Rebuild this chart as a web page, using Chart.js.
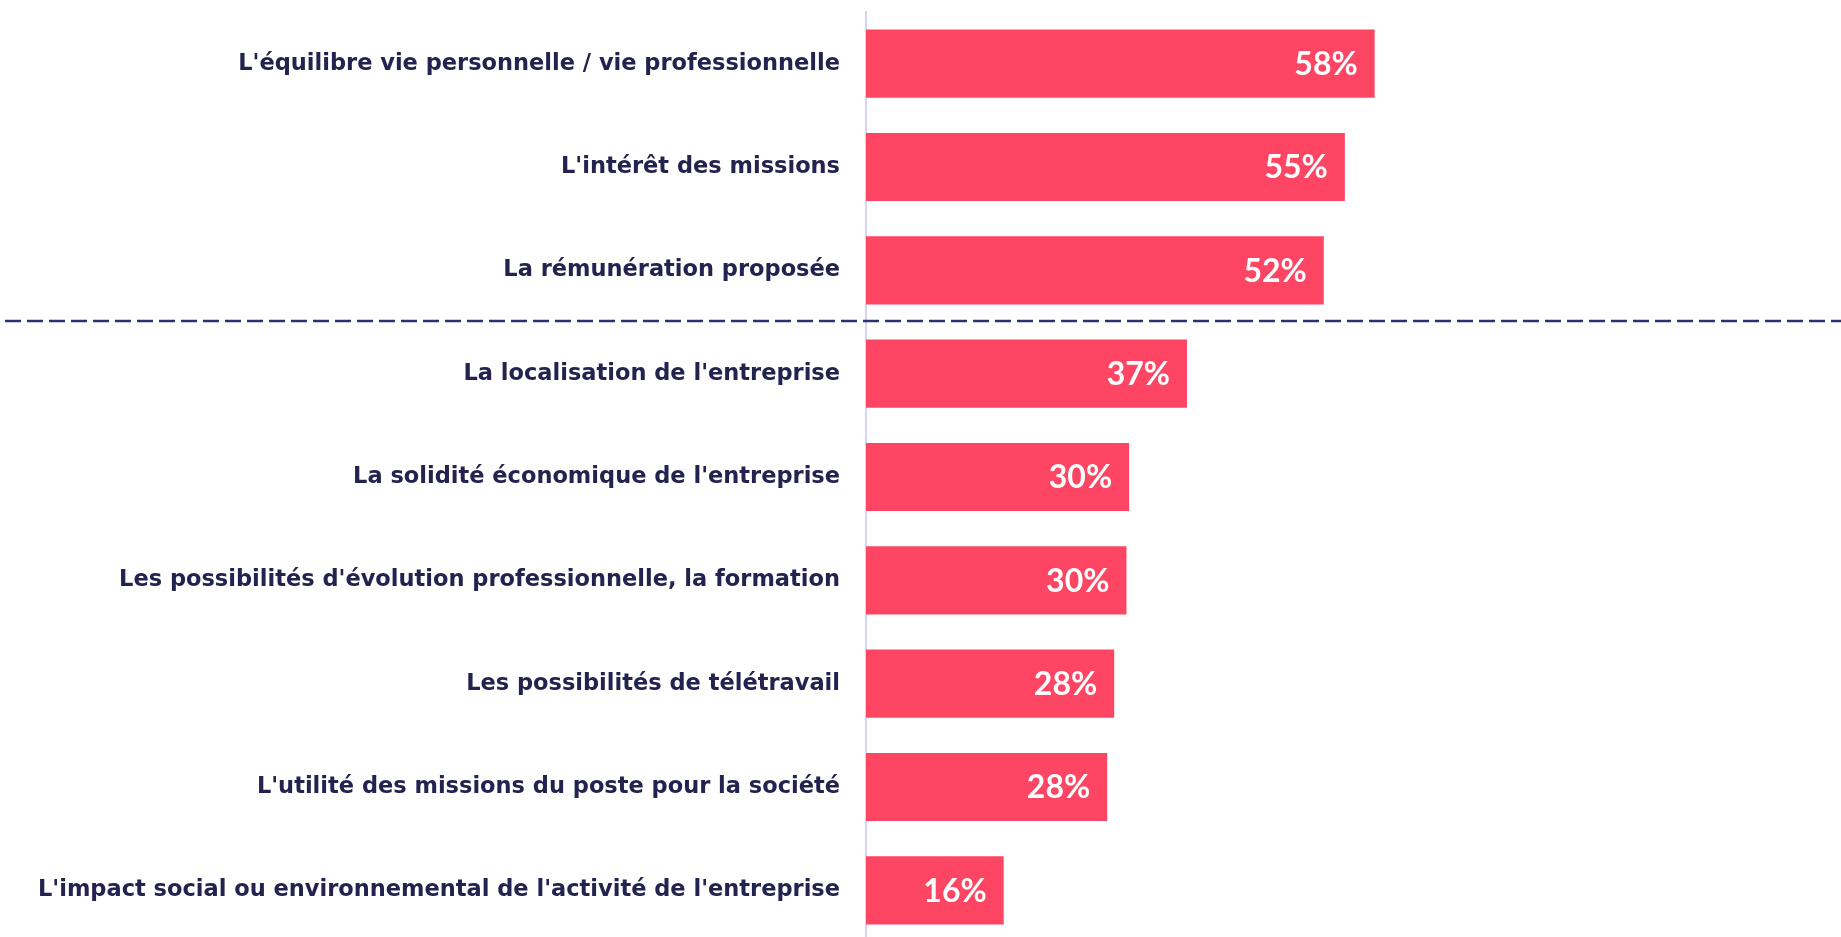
<!DOCTYPE html>
<html lang="fr">
<head>
<meta charset="utf-8">
<script src="https://cdn.jsdelivr.net/npm/chart.js@4"></script>
<style>
  html, body { margin: 0; padding: 0; background: #fff; overflow: hidden; }
  .chart-box { position: relative; width: 1841px; height: 942px; }
</style>
</head>
<body>
<div class="chart-box">
  <canvas id="critChart"></canvas>
</div>
<script>
// Critères de choix d'un employeur (% de citations)
const categories = [
  "L'équilibre vie personnelle / vie professionnelle",
  "L'intérêt des missions",
  "La rémunération proposée",
  "La localisation de l'entreprise",
  "La solidité économique de l'entreprise",
  "Les possibilités d'évolution professionnelle, la formation",
  "Les possibilités de télétravail",
  "L'utilité des missions du poste pour la société",
  "L'impact social ou environnemental de l'activité de l'entreprise"
];
const values = [58.0, 54.6, 52.2, 36.6, 30.0, 29.7, 28.3, 27.5, 15.7];
const separatorAfter = 2; // dashed line below the top 3

const navy = '#23234f';
const barColor = '#ff4564';

// white % labels inside the bar ends
const valueLabels = {
  id: 'valueLabels',
  afterDatasetsDraw(chart) {
    const ctx = chart.ctx;
    const meta = chart.getDatasetMeta(0);
    ctx.save();
    ctx.fillStyle = '#ffffff';
    ctx.font = 'bold 32px Lato';
    ctx.textAlign = 'right';
    ctx.textBaseline = 'middle';
    meta.data.forEach((bar, i) => {
      ctx.fillText(Math.round(values[i]) + '%', bar.x - 17, bar.y + 1);
    });
    ctx.restore();
  }
};

// dashed separator across the whole width
const separator = {
  id: 'separator',
  afterDraw(chart) {
    const y = chart.scales.y;
    const yy = (y.getPixelForValue(separatorAfter) + y.getPixelForValue(separatorAfter + 1)) / 2 - 1;
    const ctx = chart.ctx;
    ctx.save();
    ctx.strokeStyle = '#2e3170';
    ctx.lineWidth = 2.5;
    ctx.setLineDash([16, 6]);
    ctx.beginPath();
    ctx.moveTo(5, yy);
    ctx.lineTo(chart.width, yy);
    ctx.stroke();
    ctx.restore();
  }
};

new Chart(document.getElementById('critChart'), {
  type: 'bar',
  data: {
    labels: categories,
    datasets: [{
      data: values,
      backgroundColor: barColor,
      borderWidth: 0,
      categoryPercentage: 1,
      barPercentage: 0.66
    }]
  },
  options: {
    indexAxis: 'y',
    responsive: true,
    maintainAspectRatio: false,
    animation: false,
    layout: { padding: { top: 12, right: 98, bottom: 0, left: 0 } },
    plugins: {
      legend: { display: false },
      tooltip: { enabled: false }
    },
    scales: {
      x: {
        display: false,
        min: 0,
        max: 100
      },
      y: {
        afterFit(scale) {
          scale.width = 866;
          scale.paddingTop = 0;
          scale.paddingBottom = 0;
        },
        grid: { display: false, drawTicks: false },
        border: { display: true, color: '#d3d6f2', width: 2 },
        ticks: {
          color: navy,
          padding: 26,
          font: { family: 'DejaVu Sans', weight: 'bold', size: 22.5 }
        }
      }
    }
  },
  plugins: [valueLabels, separator]
});
</script>
</body>
</html>
